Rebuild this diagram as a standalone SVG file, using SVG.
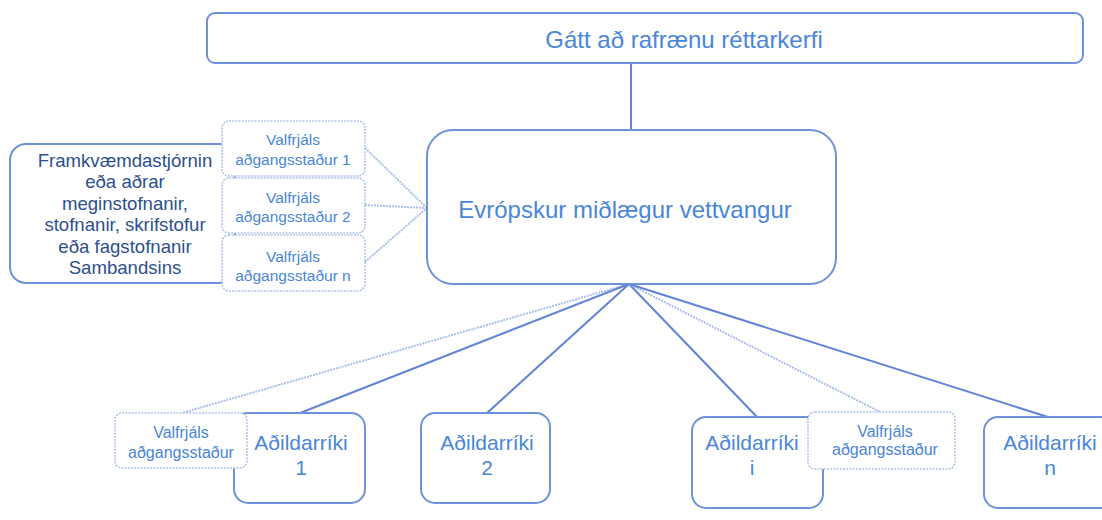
<svg xmlns="http://www.w3.org/2000/svg" width="1102" height="520" viewBox="0 0 1102 520">
<style>
.box{fill:#fff;stroke:#6d92d9;stroke-width:2}
.opt{fill:#fff;stroke:#aec3ea;stroke-width:1.6;stroke-dasharray:2 1.2}
.t{font-family:"Liberation Sans",Arial,sans-serif;fill:#4a86d8;text-anchor:middle}
.dk{font-family:"Liberation Sans",Arial,sans-serif;fill:#2e4f8f;text-anchor:middle;font-size:18.6px}
.c{stroke:#6284d6;stroke-width:2;fill:none}
.cd{stroke:#aabfea;stroke-width:2;fill:none;stroke-dasharray:2 1}
.ap{font-size:15.5px}
.ab{font-size:16px}
.ms{font-size:21px}
</style>
<rect width="1102" height="520" fill="#fff"/>
<g id="connectors">
<line class="c" x1="631" y1="63" x2="631" y2="131"/>
<line class="cd" x1="365" y1="148" x2="427" y2="208"/>
<line class="cd" x1="365" y1="205" x2="427" y2="208"/>
<line class="cd" x1="365" y1="262" x2="427" y2="208"/>
<line class="cd" x1="629" y1="284" x2="182" y2="413"/>
<line class="c" x1="629" y1="284" x2="300" y2="413"/>
<line class="c" x1="629" y1="284" x2="487" y2="413"/>
<line class="c" x1="629" y1="284" x2="757" y2="417"/>
<line class="cd" x1="629" y1="284" x2="880" y2="412"/>
<line class="c" x1="629" y1="284" x2="1048" y2="417"/>
</g>
<g id="portal">
<rect class="box" x="207" y="13" width="876" height="50" rx="8"/>
<text class="t" x="684" y="48" font-size="24">Gátt að rafrænu réttarkerfi</text>
</g>
<g id="platform">
<rect class="box" x="427" y="130" width="409" height="154" rx="26"/>
<text class="t" x="625" y="218" font-size="24">Evrópskur miðlægur vettvangur</text>
</g>
<g id="institutions">
<rect class="box" x="10" y="144" width="225" height="139" rx="16"/>
<text class="dk" x="125" y="167">Framkvæmdastjórnin</text>
<text class="dk" x="125" y="188.4">eða aðrar</text>
<text class="dk" x="125" y="209.8">meginstofnanir,</text>
<text class="dk" x="125" y="231.2">stofnanir, skrifstofur</text>
<text class="dk" x="125" y="252.6">eða fagstofnanir</text>
<text class="dk" x="125" y="274">Sambandsins</text>
</g>
<g id="ap1">
<rect class="opt" x="222" y="121" width="143" height="55" rx="7"/>
<text class="t ap" x="293" y="145">Valfrjáls</text>
<text class="t ap" x="293" y="165">aðgangsstaður 1</text>
</g>
<g id="ap2">
<rect class="opt" x="222" y="178" width="143" height="55" rx="7"/>
<text class="t ap" x="293" y="203">Valfrjáls</text>
<text class="t ap" x="293" y="222">aðgangsstaður 2</text>
</g>
<g id="apn">
<rect class="opt" x="222" y="235" width="143" height="56" rx="7"/>
<text class="t ap" x="293" y="262">Valfrjáls</text>
<text class="t ap" x="293" y="281">aðgangsstaður n</text>
</g>
<g id="ms1">
<rect class="box" x="234" y="413" width="131" height="90" rx="14"/>
<text class="t ms" x="301" y="450">Aðildarríki</text>
<text class="t ms" x="301" y="475">1</text>
</g>
<g id="ap-ms1">
<rect class="opt" x="115" y="413" width="132" height="55" rx="7"/>
<text class="t ab" x="181" y="438">Valfrjáls</text>
<text class="t ab" x="181" y="458">aðgangsstaður</text>
</g>
<g id="ms2">
<rect class="box" x="421" y="413" width="129" height="90" rx="14"/>
<text class="t ms" x="487" y="450">Aðildarríki</text>
<text class="t ms" x="487" y="475">2</text>
</g>
<g id="msi">
<rect class="box" x="692" y="417" width="131" height="91" rx="14"/>
<text class="t ms" x="752" y="450">Aðildarríki</text>
<text class="t ms" x="752" y="475">i</text>
</g>
<g id="ap-msi">
<rect class="opt" x="808" y="412" width="147" height="57" rx="7"/>
<text class="t ab" x="885" y="437">Valfrjáls</text>
<text class="t ab" x="885" y="455">aðgangsstaður</text>
</g>
<g id="msn">
<rect class="box" x="984" y="417" width="130" height="91" rx="14"/>
<text class="t ms" x="1050" y="450">Aðildarríki</text>
<text class="t ms" x="1050" y="475">n</text>
</g>
</svg>
